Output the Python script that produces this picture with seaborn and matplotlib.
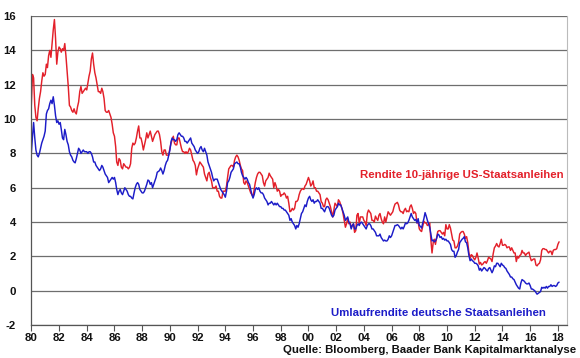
import numpy as np
import pandas as pd
import matplotlib
matplotlib.use("Agg")
import matplotlib.pyplot as plt
import matplotlib.dates as mdates
import seaborn as sns

# monthly yields, Jan 1980 .. Feb 2018
us_1980s = [
    10.8, 12.6, 12.4, 10.8, 10.1, 9.9, 10.6, 11.2, 11.6, 12.2, 12.7, 12.5,
    12.6, 13.2, 13.0, 13.7, 14.0, 13.6, 14.4, 15.2, 15.8, 14.7, 13.2, 13.9,
    14.2, 14.1, 13.9, 14.1, 14.0, 14.4, 13.7, 12.8, 11.9, 10.8, 10.7, 10.5,
    10.4, 10.6, 10.4, 10.3, 10.7, 11.0, 11.6, 11.9, 11.5, 11.6, 11.7, 11.8,
    11.7, 12.1, 12.5, 12.8, 13.5, 13.85, 13.2, 12.7, 12.4, 12.0, 11.6, 11.6,
    11.5, 11.8, 11.6, 11.2, 10.5, 10.4, 10.4, 10.5, 10.3, 10.1, 9.7, 9.2,
    9.0, 8.4, 7.5, 7.3, 7.7, 7.6, 7.2, 7.1, 7.4, 7.3, 7.2, 7.2,
    7.1, 7.2, 7.4, 8.3, 8.6, 8.5, 8.6, 8.9, 9.3, 9.6, 8.9, 8.9,
    8.6, 8.2, 8.5, 8.8, 9.2, 8.9, 9.1, 9.3, 9.0, 8.7, 8.9, 9.1,
    9.2, 9.3, 9.3, 9.1, 8.7, 8.1, 7.9, 8.2, 8.2, 7.9, 7.9, 7.9,
]
us_1990s = [
    8.3, 8.6, 8.8, 9.0, 8.6, 8.5, 8.5, 8.9, 8.9, 8.6, 8.3, 8.1,
    8.1, 8.0, 8.1, 8.0, 8.1, 8.3, 8.2, 7.9, 7.6, 7.5, 7.3, 6.75,
    7.1, 7.3, 7.5, 7.4, 7.3, 7.2, 6.8, 6.6, 6.4, 6.8, 6.9, 6.6,
    6.4, 6.0, 6.0, 6.0, 6.1, 5.8, 5.8, 5.5, 5.4, 5.4, 5.8, 5.8,
    5.8, 6.1, 6.6, 7.1, 7.2, 7.3, 7.3, 7.2, 7.6, 7.8, 7.9, 7.8,
    7.6, 7.3, 7.1, 7.0, 6.3, 6.2, 6.4, 6.3, 6.1, 5.9, 5.7, 5.6,
    5.5, 5.9, 6.3, 6.6, 6.8, 6.9, 6.9, 6.8, 6.7, 6.3, 6.1, 6.4,
    6.5, 6.6, 6.85, 6.7, 6.6, 6.5, 6.0, 6.3, 6.1, 5.8, 5.9, 5.8,
    5.5, 5.6, 5.6, 5.7, 5.6, 5.4, 5.5, 5.1, 4.6, 4.65, 4.8, 4.7,
    4.8, 5.2, 5.2, 5.3, 5.6, 5.8, 5.9, 5.95, 5.9, 6.1, 6.2, 6.4,
]
us_2000s = [
    6.6, 6.4, 6.1, 6.2, 6.4, 6.0, 6.0, 5.8, 5.8, 5.7, 5.6, 5.2,
    5.1, 4.9, 4.9, 5.3, 5.4, 5.3, 5.1, 4.9, 4.6, 4.3, 4.7, 5.1,
    5.0, 4.9, 5.3, 5.2, 5.0, 4.8, 4.5, 4.1, 3.7, 3.9, 4.2, 3.9,
    4.0, 3.7, 3.8, 3.9, 3.4, 3.5, 4.4, 4.5, 3.9, 4.3, 4.3, 4.3,
    4.1, 4.0, 3.8, 4.5, 4.7, 4.6, 4.5, 4.1, 4.1, 4.0, 4.35, 4.2,
    4.1, 4.4, 4.5, 4.2, 4.0, 3.9, 4.3, 4.0, 4.3, 4.6, 4.5, 4.4,
    4.5, 4.6, 4.85, 5.05, 5.1, 5.15, 5.0, 4.7, 4.6, 4.6, 4.5, 4.7,
    4.8, 4.6, 4.65, 4.6, 4.9, 5.0, 4.8, 4.5, 4.6, 4.5, 3.95, 4.0,
    3.6, 3.5, 3.45, 3.75, 4.05, 3.95, 3.95, 3.8, 3.85, 3.95, 2.95, 2.2,
    2.8, 3.0, 2.7, 3.1, 3.45, 3.5, 3.5, 3.4, 3.3, 3.4, 3.2, 3.85,
]
us_2010s = [
    3.6, 3.6, 3.85, 3.65, 3.3, 2.95, 2.9, 2.5, 2.5, 2.6, 2.8, 3.3,
    3.4, 3.45, 3.45, 3.3, 3.05, 3.15, 2.8, 2.2, 1.9, 2.1, 2.05, 1.9,
    1.8, 1.95, 2.2, 1.9, 1.55, 1.65, 1.5, 1.55, 1.65, 1.7, 1.6, 1.75,
    1.95, 1.9, 1.85, 1.7, 2.15, 2.5, 2.6, 2.75, 2.6, 2.55, 2.75, 3.0,
    2.65, 2.65, 2.7, 2.65, 2.5, 2.55, 2.55, 2.35, 2.5, 2.35, 2.2, 2.2,
    1.7, 2.0, 1.9, 2.05, 2.1, 2.35, 2.2, 2.2, 2.05, 2.15, 2.2, 2.25,
    1.95, 1.75, 1.8, 1.85, 1.85, 1.5, 1.45, 1.55, 1.6, 1.8, 2.35, 2.45,
    2.45, 2.4, 2.4, 2.3, 2.2, 2.3, 2.3, 2.1, 2.35, 2.4, 2.4, 2.45,
    2.7, 2.85,
]

de_1980s = [
    8.0, 9.0, 9.8, 8.9, 8.2, 7.9, 7.8, 8.0, 8.3, 8.6, 8.8, 9.0,
    9.3, 10.3, 10.5, 10.6, 10.9, 11.1, 10.9, 11.3, 10.8, 10.2, 9.8, 9.9,
    9.7, 9.8, 9.4, 8.9, 8.8, 9.4, 9.1, 8.7, 8.5, 8.1, 7.9, 7.8,
    7.6, 7.5, 7.45, 7.7, 8.0, 8.3, 8.2, 8.0, 8.1, 8.2, 8.1, 8.1,
    8.1, 8.0, 8.1, 8.1, 8.0, 7.8, 7.5, 7.5, 7.3, 7.2, 7.1, 7.0,
    7.1, 7.3, 7.2, 7.0, 6.8, 6.7, 6.6, 6.3, 6.4, 6.5, 6.6, 6.5,
    6.6, 6.3, 5.9, 5.6, 5.8, 5.9, 5.7, 5.6, 5.8, 6.0, 5.9, 5.8,
    5.6, 5.5, 5.5, 5.4, 5.35, 5.7, 6.0, 6.2, 6.3, 6.2, 5.9, 5.8,
    5.7, 5.7, 5.8, 6.0, 6.2, 6.45, 6.4, 6.2, 6.3, 6.0, 6.2, 6.4,
    6.6, 6.9, 6.95, 7.0, 7.15, 7.0, 6.8, 7.0, 7.3, 7.5, 7.6, 7.9,
]
de_1990s = [
    8.2, 8.7, 8.9, 8.8, 8.8, 8.7, 8.8, 9.1, 9.2, 9.1, 9.0, 9.0,
    8.9, 8.7, 8.7, 8.6, 8.7, 8.8, 8.9, 8.6, 8.5, 8.4, 8.2, 8.1,
    8.0, 8.1, 8.3, 8.4, 8.2, 8.1, 8.3, 8.1, 7.9, 7.5, 7.3, 7.1,
    6.9, 6.6, 6.4, 6.5, 6.5, 6.5, 6.3, 6.1, 5.9, 5.8, 5.7, 5.6,
    5.45, 5.8, 6.3, 6.4, 6.6, 6.9, 7.0, 7.1, 7.4, 7.45, 7.5, 7.4,
    7.4, 7.2, 6.9, 6.7, 6.6, 6.5, 6.6, 6.5, 6.3, 6.2, 5.9, 5.6,
    5.4, 5.6, 5.9, 6.0, 5.9, 6.0, 5.8, 5.7, 5.7, 5.6, 5.4, 5.3,
    5.2, 5.0, 5.1, 5.1, 5.2, 5.1, 5.0, 5.1, 5.0, 5.1, 5.0, 4.9,
    4.9, 4.8, 4.8, 4.7, 4.7, 4.6, 4.5, 4.4, 4.1, 4.2, 4.0, 3.9,
    3.8, 3.6, 3.8, 3.7, 3.9, 4.2, 4.5, 4.6, 4.8, 5.0, 4.9, 5.2,
]
de_2000s = [
    5.4, 5.5, 5.3, 5.2, 5.3, 5.1, 5.2, 5.2, 5.3, 5.2, 5.1, 4.8,
    4.8, 4.7, 4.6, 4.8, 4.9, 4.9, 4.8, 4.6, 4.4, 4.3, 4.4, 4.7,
    4.8, 4.9, 5.1, 5.0, 5.0, 4.8, 4.6, 4.4, 4.1, 4.2, 4.3, 4.0,
    3.9, 3.6, 3.8, 3.9, 3.6, 3.6, 3.8, 3.9, 3.8, 3.95, 4.0, 3.9,
    3.8, 3.7, 3.6, 3.8, 3.9, 3.9, 3.8, 3.6, 3.6, 3.5, 3.4, 3.2,
    3.2, 3.2, 3.3, 3.1, 3.0, 2.9, 2.95, 2.9, 2.9, 3.0, 3.2, 3.1,
    3.2, 3.4, 3.6, 3.8, 3.8, 3.85, 3.8, 3.7, 3.6, 3.7, 3.6, 3.75,
    3.95, 3.9, 3.95, 4.1, 4.3, 4.5, 4.3, 4.2, 4.1, 4.15, 3.95, 4.2,
    3.8, 3.75, 3.65, 3.95, 4.2, 4.55, 4.35, 4.1, 3.9, 3.7, 3.3, 2.9,
    2.95, 2.85, 2.9, 3.05, 3.3, 3.25, 3.1, 3.15, 3.0, 3.05, 2.95, 3.0,
]
de_2010s = [
    2.9, 2.9, 2.8, 2.7, 2.4, 2.3, 2.3, 1.95, 2.05, 2.25, 2.4, 2.8,
    2.9, 3.0, 3.05, 3.15, 2.85, 2.8, 2.5, 2.05, 1.75, 1.85, 1.75, 1.7,
    1.6, 1.6, 1.55, 1.45, 1.2, 1.3, 1.15, 1.25, 1.35, 1.3, 1.2, 1.15,
    1.3, 1.35, 1.2, 1.05, 1.2, 1.45, 1.4, 1.6, 1.6, 1.5, 1.4, 1.6,
    1.5, 1.45, 1.35, 1.3, 1.15, 1.05, 0.95, 0.8, 0.8, 0.7, 0.65, 0.5,
    0.35, 0.25, 0.15, 0.1, 0.45, 0.65, 0.6, 0.55, 0.45, 0.4, 0.4, 0.45,
    0.3, 0.1, 0.1, 0.05, 0.0, -0.1, -0.2, -0.15, -0.1, -0.05, 0.2, 0.15,
    0.2, 0.15, 0.25, 0.15, 0.25, 0.25, 0.35, 0.25, 0.3, 0.3, 0.25, 0.3,
    0.45, 0.5,
]

us_yield = us_1980s + us_1990s + us_2000s + us_2010s
de_yield = de_1980s + de_1990s + de_2000s + de_2010s
dates = pd.date_range("1980-01-01", periods=len(us_yield), freq="MS")

df = pd.DataFrame({"date": dates, "us": us_yield, "de": de_yield})

RED = "#e3202a"
BLUE = "#1c1cc8"

sns.set_theme(style="white")
plt.rcParams["font.family"] = ["Liberation Sans", "DejaVu Sans"]
plt.rcParams["axes.unicode_minus"] = False

fig, ax = plt.subplots(figsize=(5.8, 3.58), dpi=100)
fig.subplots_adjust(left=0.054, right=0.977, top=0.955, bottom=0.092)

sns.lineplot(data=df, x="date", y="us", color=RED, lw=1.05, ax=ax)
sns.lineplot(data=df, x="date", y="de", color=BLUE, lw=1.05, ax=ax)

ax.set_ylim(-2, 16)
ax.set_yticks(range(-2, 17, 2))
ax.set_xlim(pd.Timestamp("1980-01-01"), pd.Timestamp("2018-08-20"))
ax.xaxis.set_major_locator(mdates.YearLocator(2))
ax.xaxis.set_major_formatter(mdates.DateFormatter("%y"))
ax.set_xlabel("")
ax.set_ylabel("")

ax.grid(axis="y", color="#6e6e6e", lw=0.9)
ax.set_axisbelow(True)
for side in ["left", "bottom"]:
    ax.spines[side].set_color("#555555")
    ax.spines[side].set_linewidth(0.9)
ax.spines["top"].set_visible(False)
ax.spines["right"].set_color("#bbbbbb")
ax.spines["right"].set_linewidth(0.8)

ax.tick_params(axis="x", which="major", bottom=True, length=4, width=0.8,
               color="#555555", pad=2, labelsize=8.2)
ax.tick_params(axis="y", left=False, pad=5, labelsize=8.2)
for lbl in ax.get_xticklabels() + ax.get_yticklabels():
    lbl.set_fontweight("bold")
    lbl.set_color("#111111")

fig.text(0.972, 0.51, "Rendite 10-jährige US-Staatsanleihen", color=RED,
         fontsize=8.2, fontweight="bold", ha="right", va="center")
fig.text(0.942, 0.125, "Umlaufrendite deutsche Staatsanleihen", color=BLUE,
         fontsize=8.2, fontweight="bold", ha="right", va="center")
fig.text(0.993, 0.022, "Quelle: Bloomberg, Baader Bank Kapitalmarktanalyse",
         color="#111111", fontsize=8.2, fontweight="bold", ha="right", va="center")

fig.savefig("out.png", dpi=100)
